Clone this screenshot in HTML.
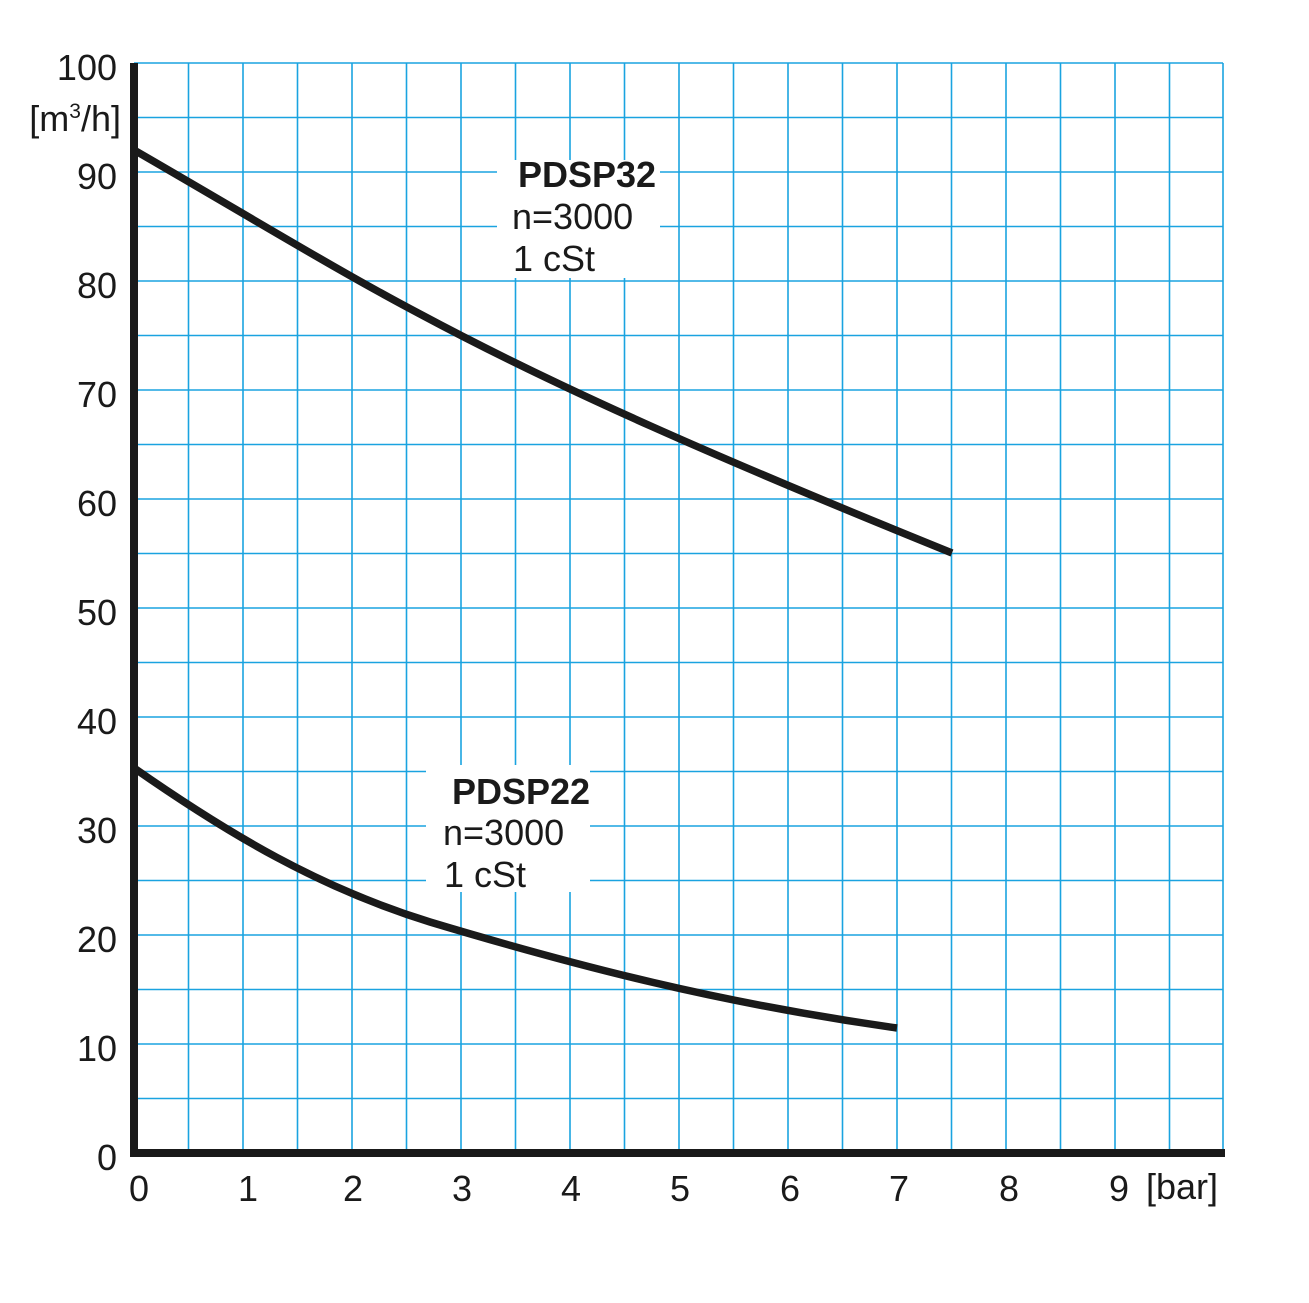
<!DOCTYPE html>
<html><head><meta charset="utf-8"><style>body{margin:0;background:#fff}svg{display:block}text{font-family:"Liberation Sans",sans-serif;fill:#1a1a1a}</style></head>
<body>
<svg width="1309" height="1303" viewBox="0 0 1309 1303" xmlns="http://www.w3.org/2000/svg">
<g stroke="#1aa3e0" stroke-width="1.6">
<line x1="134" y1="63" x2="1223" y2="63"/><line x1="134" y1="117.5" x2="1223" y2="117.5"/><line x1="134" y1="172" x2="1223" y2="172"/><line x1="134" y1="226.5" x2="1223" y2="226.5"/><line x1="134" y1="281" x2="1223" y2="281"/><line x1="134" y1="335.5" x2="1223" y2="335.5"/><line x1="134" y1="390" x2="1223" y2="390"/><line x1="134" y1="444.5" x2="1223" y2="444.5"/><line x1="134" y1="499" x2="1223" y2="499"/><line x1="134" y1="553.5" x2="1223" y2="553.5"/><line x1="134" y1="608" x2="1223" y2="608"/><line x1="134" y1="662.5" x2="1223" y2="662.5"/><line x1="134" y1="717" x2="1223" y2="717"/><line x1="134" y1="771.5" x2="1223" y2="771.5"/><line x1="134" y1="826" x2="1223" y2="826"/><line x1="134" y1="880.5" x2="1223" y2="880.5"/><line x1="134" y1="935" x2="1223" y2="935"/><line x1="134" y1="989.5" x2="1223" y2="989.5"/><line x1="134" y1="1044" x2="1223" y2="1044"/><line x1="134" y1="1098.5" x2="1223" y2="1098.5"/>
<line x1="188.5" y1="63" x2="188.5" y2="1153"/><line x1="243" y1="63" x2="243" y2="1153"/><line x1="297.5" y1="63" x2="297.5" y2="1153"/><line x1="352" y1="63" x2="352" y2="1153"/><line x1="406.5" y1="63" x2="406.5" y2="1153"/><line x1="461" y1="63" x2="461" y2="1153"/><line x1="515.5" y1="63" x2="515.5" y2="1153"/><line x1="570" y1="63" x2="570" y2="1153"/><line x1="624.5" y1="63" x2="624.5" y2="1153"/><line x1="679" y1="63" x2="679" y2="1153"/><line x1="733.5" y1="63" x2="733.5" y2="1153"/><line x1="788" y1="63" x2="788" y2="1153"/><line x1="842.5" y1="63" x2="842.5" y2="1153"/><line x1="897" y1="63" x2="897" y2="1153"/><line x1="951.5" y1="63" x2="951.5" y2="1153"/><line x1="1006" y1="63" x2="1006" y2="1153"/><line x1="1060.5" y1="63" x2="1060.5" y2="1153"/><line x1="1115" y1="63" x2="1115" y2="1153"/><line x1="1169.5" y1="63" x2="1169.5" y2="1153"/><line x1="1223" y1="63" x2="1223" y2="1153"/>
</g>
<rect x="497" y="160" width="163" height="118" fill="#fff"/>
<rect x="426" y="765" width="164" height="127" fill="#fff"/>
<g fill="none" stroke="#1a1a1a" stroke-width="7.5">
<path d="M134,150 C250,217 340,272 420,314 C560,389 720,459 952,553"/>
<path d="M134,768 C230,835 320,888 430,922 C580,967 720,1003 897,1028"/>
</g>
<rect x="130" y="63" width="8" height="1094" fill="#1a1a1a"/>
<rect x="130" y="1149" width="1095" height="8" fill="#1a1a1a"/>
<g font-size="36" text-anchor="end">
<text x="117" y="80">100</text><text x="117" y="189">90</text><text x="117" y="298">80</text><text x="117" y="407">70</text><text x="117" y="516">60</text><text x="117" y="625">50</text><text x="117" y="734">40</text><text x="117" y="843">30</text><text x="117" y="952">20</text><text x="117" y="1061">10</text><text x="117" y="1170">0</text>
<text x="121" y="131">[m<tspan font-size="21" dy="-13">3</tspan><tspan dy="13">/h]</tspan></text>
</g>
<g font-size="36" text-anchor="middle">
<text x="139" y="1201">0</text><text x="248" y="1201">1</text><text x="353" y="1201">2</text><text x="462" y="1201">3</text><text x="571" y="1201">4</text><text x="680" y="1201">5</text><text x="790" y="1201">6</text><text x="899" y="1201">7</text><text x="1009" y="1201">8</text><text x="1119" y="1201">9</text>
</g>
<text x="1146" y="1199" font-size="36">[bar]</text>
<text x="518" y="187" font-size="36" font-weight="bold">PDSP32</text>
<text x="512" y="229" font-size="36">n=3000</text>
<text x="513" y="271" font-size="36">1 cSt</text>
<text x="452" y="804" font-size="36" font-weight="bold">PDSP22</text>
<text x="443" y="845" font-size="36">n=3000</text>
<text x="444" y="887" font-size="36">1 cSt</text>
</svg>
</body></html>
